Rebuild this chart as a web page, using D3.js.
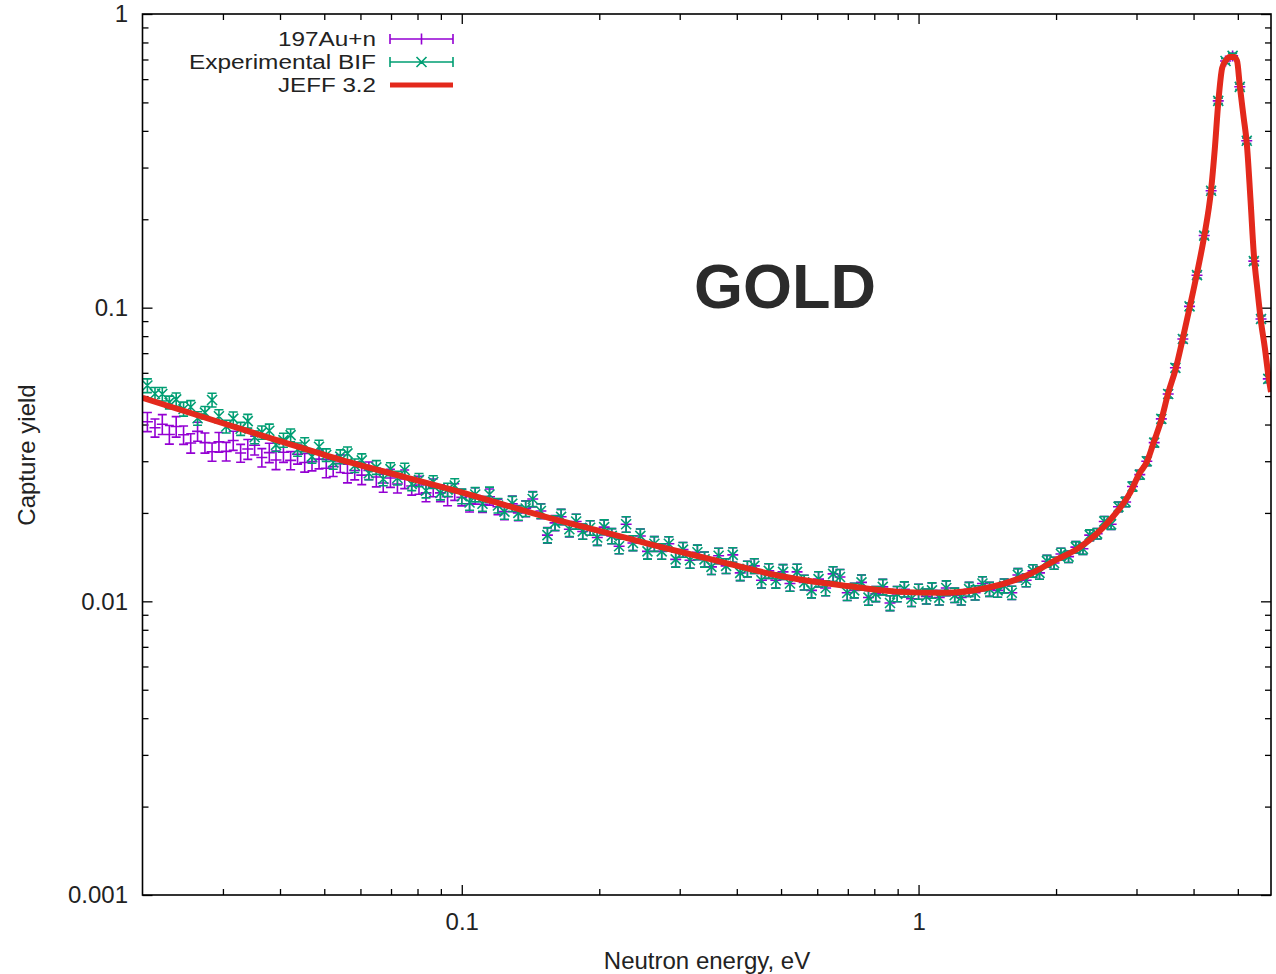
<!DOCTYPE html>
<html><head><meta charset="utf-8">
<script src="https://cdn.jsdelivr.net/npm/d3@7"></script>
<style>
html,body{margin:0;padding:0;background:#fff;}
svg{display:block;font-family:"Liberation Sans",Arial,Helvetica,sans-serif;}
</style></head><body>
<svg id="chart" width="1276" height="974"></svg>
<script>
// ---------------- data ----------------
const energies = [
0.0205,0.0213,0.0221,0.0229,0.0237,0.0246,0.0255,0.0264,0.0274,0.0284,
0.0294,0.0305,0.0316,0.0328,0.0340,0.0352,0.0365,0.0379,0.0392,0.0407,
0.0422,0.0437,0.0453,0.0470,0.0487,0.0505,0.0523,0.0542,0.0562,0.0583,
0.0604,0.0626,0.0650,0.0673,0.0698,0.0723,0.0750,0.0777,0.0806,0.0835,
0.0866,0.0898,0.0931,0.0965,
0.100,0.104,0.107,0.111,0.115,0.120,0.124,0.129,0.133,0.138,
0.143,0.149,0.154,0.160,0.165,0.172,0.178,0.184,0.191,0.198,
0.205,0.213,0.221,0.229,0.237,0.246,0.255,0.264,0.274,0.284,
0.294,0.305,0.316,0.328,0.340,0.352,0.365,0.379,0.392,0.407,
0.422,0.437,0.453,0.470,0.487,0.505,0.523,0.542,0.562,0.583,
0.604,0.626,0.650,0.673,0.698,0.723,0.750,0.777,0.806,0.835,
0.866,0.898,0.931,0.965,
1.00,1.04,1.07,1.11,1.15,1.20,1.24,1.29,1.33,1.38,
1.43,1.49,1.54,1.60,1.65,1.72,1.78,1.84,1.91,1.98,
2.05,2.13,2.21,2.29,2.37,2.46,2.55,2.64,2.74,2.84,
2.94,3.05,3.16,3.28,3.40,3.52,3.65,3.79,3.92,4.07,
4.22,4.37,4.53,4.70,4.87,5.05,5.23,5.42,5.62,5.83];

const yieldBIF = [
0.0543,0.0509,0.0508,0.0476,0.0487,0.0452,0.0459,0.0420,0.0439,0.0485,
0.0427,0.0394,0.0419,0.0387,0.0411,0.0362,0.0376,0.0381,0.0341,0.0354,
0.0368,0.0329,0.0342,0.0311,0.0336,0.0315,0.0297,0.0311,0.0319,0.0290,
0.0302,0.0273,0.0286,0.0261,0.0282,0.0263,0.0280,0.0251,0.0259,0.0238,
0.0255,0.0234,0.0240,0.0248,0.0228,0.0217,0.0231,0.0215,0.0231,0.0212,
0.0202,0.0215,0.0200,0.0207,0.0223,0.0203,0.0168,0.0185,0.0194,0.0176,
0.0187,0.0173,0.0178,0.0165,0.0179,0.0167,0.0154,0.0183,0.0158,0.0167,
0.0148,0.0157,0.0148,0.0157,0.0139,0.0150,0.0138,0.0147,0.0139,0.0131,
0.0143,0.0132,0.0144,0.0125,0.0129,0.0132,0.0118,0.0127,0.0118,0.0126,
0.0115,0.0126,0.0116,0.0109,0.0119,0.0111,0.0124,0.0121,0.0107,0.0109,
0.0116,0.0103,0.0106,0.0112,0.00987,0.0106,0.0110,0.0102,0.0108,0.0104,
0.0109,0.0103,0.0111,0.0105,0.0103,0.0110,0.0107,0.0115,0.0110,0.0109,
0.0113,0.0107,0.0123,0.0118,0.0127,0.0125,0.0137,0.0135,0.0145,0.0142,
0.0153,0.0151,0.0168,0.0170,0.0187,0.0183,0.0210,0.0218,0.0246,0.0270,
0.0300,0.0347,0.0418,0.0508,0.0624,0.0782,0.101,0.129,0.176,0.250,
0.506,0.692,0.720,0.565,0.370,0.144,0.0915,0.0572];

const yieldAu = [
0.0409,0.0390,0.0401,0.0370,0.0394,0.0369,0.0346,0.0379,0.0347,0.0323,
0.0349,0.0324,0.0353,0.0320,0.0330,0.0340,0.0309,0.0321,0.0303,0.0322,
0.0302,0.0317,0.0297,0.0299,0.0305,0.0284,0.0288,0.0295,0.0273,0.0279,
0.0269,0.0279,0.0265,0.0253,0.0263,0.0251,0.0261,0.0247,0.0249,0.0234,
0.0244,0.0234,0.0227,0.0236,0.0226,0.0215,0.0229,0.0214,0.0227,0.0210,
0.0202,0.0215,0.0200,0.0207,0.0223,0.0203,0.0168,0.0185,0.0194,0.0176,
0.0187,0.0173,0.0178,0.0165,0.0179,0.0167,0.0154,0.0183,0.0158,0.0167,
0.0148,0.0157,0.0148,0.0157,0.0139,0.0150,0.0138,0.0147,0.0139,0.0131,
0.0143,0.0132,0.0144,0.0125,0.0129,0.0132,0.0118,0.0127,0.0118,0.0126,
0.0115,0.0126,0.0116,0.0109,0.0119,0.0111,0.0124,0.0121,0.0107,0.0109,
0.0116,0.0103,0.0106,0.0112,0.00987,0.0106,0.0110,0.0102,0.0108,0.0104,
0.0109,0.0103,0.0111,0.0105,0.0103,0.0110,0.0107,0.0115,0.0110,0.0109,
0.0113,0.0107,0.0123,0.0118,0.0127,0.0125,0.0137,0.0135,0.0145,0.0142,
0.0153,0.0151,0.0168,0.0170,0.0187,0.0183,0.0210,0.0218,0.0246,0.0270,
0.0300,0.0347,0.0418,0.0508,0.0624,0.0782,0.101,0.129,0.176,0.250,
0.506,0.692,0.720,0.565,0.370,0.144,0.0915,0.0572];

// relative uncertainties, percent
const errBIFPct = [
5.4,5.1,5.3,5.0,5.2,5.5,5.1,5.3,4.9,5.4,5.2,5.0,5.3,5.1,5.4,5.0,5.2,5.3,5.1,5.5,
5.0,5.2,5.4,5.1,5.3,4.9,5.2,5.4,5.1,5.3,5.2,5.0,5.4,5.2,5.1,5.3,5.5,5.1,5.2,5.4,
5.0,5.3,5.2,5.4,
5.7,5.9,5.6,5.8,6.0,5.7,5.8,5.9,5.6,6.1,5.8,5.7,5.9,5.8,6.0,5.6,5.8,5.9,5.7,6.0,
5.8,5.9,5.7,6.1,5.8,5.6,5.9,5.8,6.0,5.7,5.9,5.8,6.1,5.7,5.9,5.8,6.0,5.8,5.7,5.9,
6.1,5.8,5.9,5.7,6.0,5.8,5.9,6.1,5.8,5.7,6.0,5.9,5.8,6.1,5.9,5.7,6.0,5.8,5.9,6.1,
5.8,6.0,5.9,5.8,
5.9,5.8,6.0,5.7,5.8,5.6,5.7,5.5,5.6,5.4,5.5,5.3,5.4,5.2,5.1,5.0,4.9,4.9,4.7,4.7,
4.6,4.5,4.4,
4.3,4.2,4.1,4.0,3.9,3.8,3.7,3.6,3.5,3.4,
3.3,3.2,3.0,2.9,2.8,2.6,2.5,2.4,2.2,2.1,2.0,2.0,2.1,2.2,2.5,2.7,3.0];

const errAuPct = [
7.5,7.1,7.8,7.3,8.0,7.2,7.6,7.4,7.9,7.1,7.7,7.3,7.5,7.0,7.8,7.4,7.2,7.6,7.3,7.7,
7.1,7.5,7.3,7.0,7.4,7.2,7.6,6.9,7.3,7.1,7.2,6.9,7.4,7.0,7.1,6.8,7.3,6.9,7.0,6.7,
6.9,6.6,6.8,6.5,
6.5,6.3,6.4,6.2,6.3,6.1,6.2,6.1,6.0,6.2,6.0,5.9,6.1,5.9,6.0,5.8,5.9,
5.9,5.7,6.0,
5.8,5.9,5.7,6.1,5.8,5.6,5.9,5.8,6.0,5.7,5.9,5.8,6.1,5.7,5.9,5.8,6.0,5.8,5.7,5.9,
6.1,5.8,5.9,5.7,6.0,5.8,5.9,6.1,5.8,5.7,6.0,5.9,5.8,6.1,5.9,5.7,6.0,5.8,5.9,6.1,
5.8,6.0,5.9,5.8,
5.9,5.8,6.0,5.7,5.8,5.6,5.7,5.5,5.6,5.4,5.5,5.3,5.4,5.2,5.1,5.0,4.9,4.9,4.7,4.7,
4.6,4.5,4.4,
4.3,4.2,4.1,4.0,3.9,3.8,3.7,3.6,3.5,3.4,
3.3,3.2,3.0,2.9,2.8,2.6,2.5,2.4,2.2,2.1,2.0,2.0,2.1,2.2,2.5,2.7,3.0];

const jeffEnergy = [0.02,0.03,0.04,0.0537,0.075,0.1,0.156,0.2,0.272,0.35,0.498,0.7,0.911,1.13,1.41,
  1.755,2.0,2.257,2.626,2.904,3.05,3.16,3.28,3.40,3.52,3.65,3.79,3.92,4.07,4.22,4.37,4.45,4.53,
  4.62,4.70,4.80,4.90,4.98,5.05,5.15,5.23,5.33,5.42,5.52,5.62,5.73,5.83,5.91];
const jeffYield = [0.0493,0.0404,0.0351,0.0305,0.0265,0.0235,0.0192,0.01738,0.01532,0.01393,0.0122,0.01127,0.01077,0.01069,0.0111,
  0.0124,0.01383,0.0153,0.01892,0.0234,0.0274,0.0298,0.0352,0.0415,0.0512,0.0614,0.0788,0.0998,0.131,0.175,0.252,0.344,0.498,
  0.655,0.692,0.714,0.714,0.692,0.569,0.443,0.364,0.233,0.152,0.1149,0.0894,0.0729,0.059,0.0516];

const seriesNames = ["197Au+n", "Experimental BIF", "JEFF 3.2"];
const seriesColors = ["#9400d3", "#009e73", "#e3291c"];
const xMajorTicks = [0.1, 1];
const xMajorLabels = ["0.1", "1"];
const yMajorTicks = [0.001, 0.01, 0.1, 1];
const yMajorLabels = ["0.001", "0.01", "0.1", "1"];
const chartTitle = "GOLD";
const xTitle = "Neutron energy, eV";
const yTitle = "Capture yield";

// ---------------- drawing ----------------
const svg = d3.select("#chart");
const P = {left: 142.5, right: 1271, top: 14, bottom: 895};
const x = d3.scaleLog().domain([0.02, 5.91]).range([P.left, P.right]);
const y = d3.scaleLog().domain([0.001, 1]).range([P.bottom, P.top]);
const textColor = "#222";

svg.append("rect").attr("width", 1276).attr("height", 974).attr("fill", "#fff");

const xMinor = x.ticks().filter(v => !xMajorTicks.some(m => Math.abs(m - v) < 1e-9) && v > 0.0201);
const yMinor = y.ticks().filter(v => !yMajorTicks.some(m => Math.abs(m - v) < 1e-12));

function addAxis(axis, tx, ty, fontSize) {
  const g = svg.append("g").attr("transform", `translate(${tx},${ty})`).call(axis);
  g.select(".domain").remove();
  g.selectAll(".tick line").attr("stroke", "#000").attr("stroke-width", 1.3);
  g.selectAll("text").attr("fill", textColor).attr("font-size", fontSize)
    .attr("font-family", '"Liberation Sans",Arial,sans-serif');
  g.attr("font-size", null).attr("font-family", null);
  return g;
}
const fmt = (vals, labs) => d => labs[vals.indexOf(d)];
// bottom
addAxis(d3.axisBottom(x).tickValues(xMajorTicks).tickSize(-10).tickPadding(18).tickFormat(fmt(xMajorTicks, xMajorLabels)), 0, P.bottom, 24);
addAxis(d3.axisBottom(x).tickValues(xMinor).tickSize(-6).tickFormat(""), 0, P.bottom, 24);
// top
addAxis(d3.axisTop(x).tickValues(xMajorTicks).tickSize(-10).tickFormat(""), 0, P.top, 24);
addAxis(d3.axisTop(x).tickValues(xMinor).tickSize(-6).tickFormat(""), 0, P.top, 24);
// left
addAxis(d3.axisLeft(y).tickValues(yMajorTicks).tickSize(-10).tickPadding(14.5).tickFormat(fmt(yMajorTicks, yMajorLabels)), P.left, 0, 24);
addAxis(d3.axisLeft(y).tickValues(yMinor).tickSize(-6).tickFormat(""), P.left, 0, 24);
// right
addAxis(d3.axisRight(y).tickValues(yMajorTicks).tickSize(-10).tickFormat(""), P.right, 0, 24);
addAxis(d3.axisRight(y).tickValues(yMinor).tickSize(-6).tickFormat(""), P.right, 0, 24);

// clip
svg.append("defs").append("clipPath").attr("id", "plotClip")
  .append("rect").attr("x", P.left).attr("y", P.top).attr("width", P.right - P.left).attr("height", P.bottom - P.top);
const layer = svg.append("g").attr("clip-path", "url(#plotClip)");

function markerPath(type, cx, cy) {
  if (type === "plus") return `M${cx - 5.5},${cy}h11M${cx},${cy - 5.5}v11`;
  return `M${cx - 5},${cy - 5}l10,10M${cx - 5},${cy + 5}l10,-10`;
}
function drawSeries(vals, errs, color, type) {
  let d = "";
  energies.forEach((e, i) => {
    const cx = x(e), v = vals[i], r = errs[i] / 100;
    const cy = y(v), lo = y(v * (1 - r)), hi = y(v * (1 + r));
    d += `M${cx},${lo}V${hi}M${cx - 4.5},${lo}h9M${cx - 4.5},${hi}h9` + markerPath(type, cx, cy);
  });
  layer.append("path").attr("d", d).attr("fill", "none").attr("stroke", color).attr("stroke-width", 1.6);
}
drawSeries(yieldAu, errAuPct, seriesColors[0], "plus");
drawSeries(yieldBIF, errBIFPct, seriesColors[1], "cross");

const jeff = jeffEnergy.map((e, i) => [e, jeffYield[i]]);
layer.append("path").datum(jeff)
  .attr("d", d3.line().x(d => x(d[0])).y(d => y(d[1])).curve(d3.curveMonotoneX))
  .attr("fill", "none").attr("stroke", seriesColors[2]).attr("stroke-width", 6)
  .attr("stroke-linejoin", "round");

// border
svg.append("rect").attr("x", P.left).attr("y", P.top).attr("width", P.right - P.left).attr("height", P.bottom - P.top)
  .attr("fill", "none").attr("stroke", "#000").attr("stroke-width", 1.6);

// legend
const legY = [39, 62, 85];
const legWidths = [98, 187, 98];
const leg = svg.append("g");
seriesNames.forEach((n, i) => {
  leg.append("text").attr("x", 376).attr("y", legY[i]).attr("dy", "0.35em").attr("text-anchor", "end")
    .attr("font-size", 19.5).attr("fill", textColor)
    .attr("textLength", legWidths[i]).attr("lengthAdjust", "spacingAndGlyphs").text(n);
});
[0, 1].forEach(i => {
  const yy = legY[i];
  const d = `M390,${yy}H453M390,${yy - 5}v10M453,${yy - 5}v10` + markerPath(i === 0 ? "plus" : "cross", 421.5, yy);
  leg.append("path").attr("d", d).attr("fill", "none").attr("stroke", seriesColors[i]).attr("stroke-width", 1.6);
});
leg.append("path").attr("d", `M390,${legY[2]}H453`).attr("stroke", seriesColors[2]).attr("stroke-width", 5);

// titles
svg.append("text").attr("x", 785).attr("y", 308).attr("text-anchor", "middle")
  .attr("font-size", 63).attr("font-weight", "bold").attr("fill", "#2b2b2b").text(chartTitle);
svg.append("text").attr("x", 707).attr("y", 961).attr("dy", "0.35em").attr("text-anchor", "middle")
  .attr("font-size", 24).attr("fill", textColor).text(xTitle);
svg.append("text").attr("transform", "translate(27,455) rotate(-90)").attr("dy", "0.35em").attr("text-anchor", "middle")
  .attr("font-size", 24).attr("fill", textColor).text(yTitle);
</script>
</body></html>
